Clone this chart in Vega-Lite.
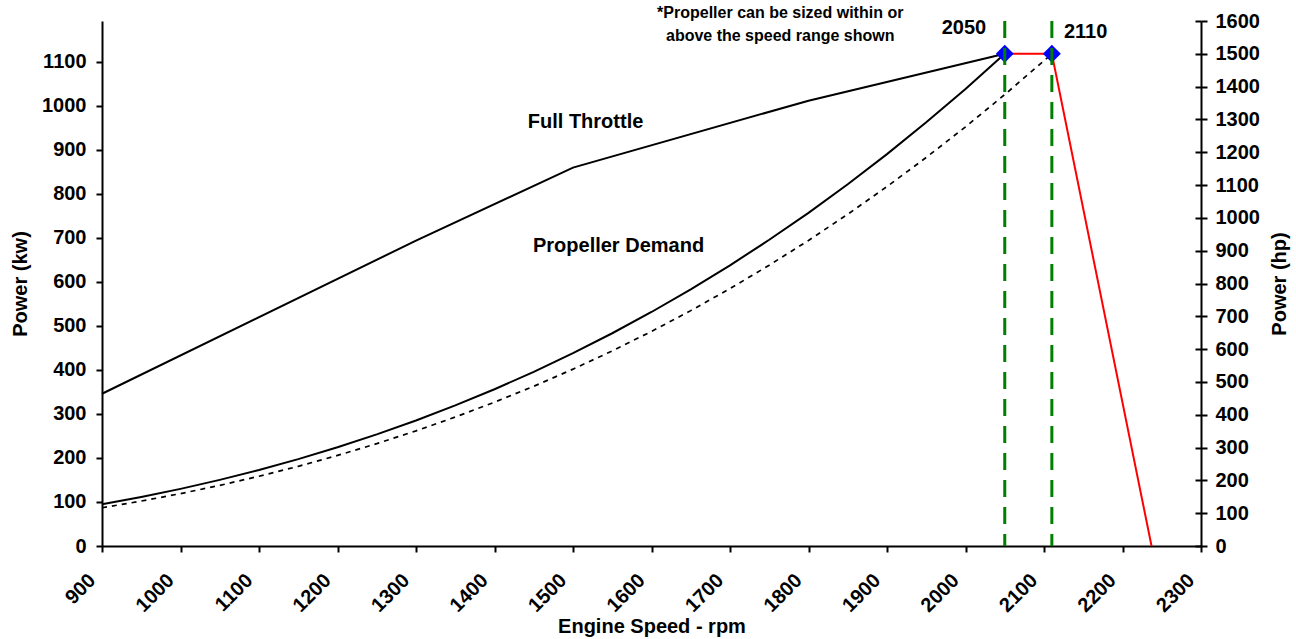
{
  "$schema": "https://vega.github.io/schema/vega-lite/v6.json",
  "width": 1099,
  "height": 525,
  "autosize": {"type": "none"},
  "padding": {"left": 102, "top": 21, "right": 95, "bottom": 93},
  "background": "white",
  "datasets": {
    "throttle": [
      {"rpm": 900, "kw": 346}, {"rpm": 1300, "kw": 694}, {"rpm": 1500, "kw": 860},
      {"rpm": 1800, "kw": 1012}, {"rpm": 2050, "kw": 1118.6}
    ],
    "propSolid": [
      {"rpm": 900, "kw": 94.7}, {"rpm": 950, "kw": 111.3}, {"rpm": 1000, "kw": 129.8},
      {"rpm": 1050, "kw": 150.3}, {"rpm": 1100, "kw": 172.8}, {"rpm": 1150, "kw": 197.5},
      {"rpm": 1200, "kw": 224.4}, {"rpm": 1250, "kw": 253.6}, {"rpm": 1300, "kw": 285.3},
      {"rpm": 1350, "kw": 319.5}, {"rpm": 1400, "kw": 356.3}, {"rpm": 1450, "kw": 395.8},
      {"rpm": 1500, "kw": 438.2}, {"rpm": 1550, "kw": 483.5}, {"rpm": 1600, "kw": 531.8},
      {"rpm": 1650, "kw": 583.3}, {"rpm": 1700, "kw": 637.9}, {"rpm": 1750, "kw": 695.9},
      {"rpm": 1800, "kw": 757.2}, {"rpm": 1850, "kw": 822.1}, {"rpm": 1900, "kw": 890.6},
      {"rpm": 1950, "kw": 962.8}, {"rpm": 2000, "kw": 1038.7}, {"rpm": 2050, "kw": 1118.6}
    ],
    "propDotted": [
      {"rpm": 900, "kw": 86.9}, {"rpm": 950, "kw": 102.1}, {"rpm": 1000, "kw": 119.0},
      {"rpm": 1050, "kw": 137.8}, {"rpm": 1100, "kw": 158.5}, {"rpm": 1150, "kw": 181.1},
      {"rpm": 1200, "kw": 205.8}, {"rpm": 1250, "kw": 232.6}, {"rpm": 1300, "kw": 261.7},
      {"rpm": 1350, "kw": 293.0}, {"rpm": 1400, "kw": 326.8}, {"rpm": 1450, "kw": 363.0},
      {"rpm": 1500, "kw": 401.9}, {"rpm": 1550, "kw": 443.4}, {"rpm": 1600, "kw": 487.7},
      {"rpm": 1650, "kw": 534.9}, {"rpm": 1700, "kw": 585.0}, {"rpm": 1750, "kw": 638.2},
      {"rpm": 1800, "kw": 694.4}, {"rpm": 1850, "kw": 754.0}, {"rpm": 1900, "kw": 816.8},
      {"rpm": 1950, "kw": 883.0}, {"rpm": 2000, "kw": 952.6}, {"rpm": 2050, "kw": 1025.9},
      {"rpm": 2100, "kw": 1102.8}, {"rpm": 2110, "kw": 1118.6}
    ],
    "labels": [
      {"label": "Full Throttle", "rpm": 1516, "kw": 950},
      {"label": "Propeller Demand", "rpm": 1558, "kw": 668},
      {"label": "2050", "rpm": 1998, "kw": 1164},
      {"label": "2110", "rpm": 2153, "kw": 1155}
    ],
    "note": [
      {"label": "*Propeller can be sized within or", "rpm": 1764, "kw": 1199},
      {"label": "above the speed range shown", "rpm": 1764, "kw": 1147}
    ],
    "limit": [
      {"rpm": 2050, "hp": 1500}, {"rpm": 2110, "hp": 1500}, {"rpm": 2237, "hp": 0}
    ],
    "markers": [
      {"rpm": 2050, "hp": 1500}, {"rpm": 2110, "hp": 1500}
    ],
    "guides": [
      {"rpm": 2050}, {"rpm": 2110}
    ]
  },
  "config": {
    "view": {"stroke": null},
    "font": "Liberation Sans",
    "axis": {
      "domainColor": "black", "domainWidth": 2,
      "tickColor": "black", "tickWidth": 2, "tickSize": 6,
      "labelFont": "Liberation Sans", "labelFontWeight": "bold", "labelFontSize": 20, "labelColor": "black",
      "titleFont": "Liberation Sans", "titleFontWeight": "bold", "titleFontSize": 20, "titleColor": "black",
      "grid": false, "labelOverlap": false, "labelFlush": false, "format": "d"
    }
  },
  "layer": [
    {
      "encoding": {
        "x": {
          "field": "rpm", "type": "quantitative",
          "scale": {"domain": [900, 2300], "nice": false, "zero": false},
          "axis": {
            "title": "Engine Speed - rpm", "format": "d",
            "values": [900, 1000, 1100, 1200, 1300, 1400, 1500, 1600, 1700, 1800, 1900, 2000, 2100, 2200, 2300],
            "labelAngle": -45, "labelAlign": "right", "labelBaseline": "middle",
            "labelPadding": 25, "labelOffset": -10,
            "titleY": 86, "titleBaseline": "alphabetic"
          }
        },
        "y": {
          "field": "kw", "type": "quantitative",
          "scale": {"domain": [0, 1193.1], "nice": false, "zero": true},
          "axis": {
            "title": "Power (kw)", "orient": "left", "format": "d",
            "values": [0, 100, 200, 300, 400, 500, 600, 700, 800, 900, 1000, 1100],
            "labelPadding": 10,
            "titleAngle": 270, "titleX": -76, "titleY": 262.5, "titleBaseline": "alphabetic", "titleAlign": "center"
          }
        }
      },
      "layer": [
        {"data": {"name": "throttle"}, "mark": {"type": "line", "color": "black", "strokeWidth": 2}},
        {"data": {"name": "propSolid"}, "mark": {"type": "line", "color": "black", "strokeWidth": 2}},
        {"data": {"name": "propDotted"}, "mark": {"type": "line", "color": "black", "strokeWidth": 1.7, "strokeDash": [5, 5]}},
        {"data": {"name": "labels"}, "mark": {"type": "text", "font": "Liberation Sans", "fontWeight": "bold", "fontSize": 20, "align": "center", "baseline": "alphabetic", "color": "black"}, "encoding": {"text": {"field": "label"}}},
        {"data": {"name": "note"}, "mark": {"type": "text", "font": "Liberation Sans", "fontWeight": "bold", "fontSize": 16, "align": "center", "baseline": "alphabetic", "color": "black"}, "encoding": {"text": {"field": "label"}}}
      ]
    },
    {
      "layer": [
        {
          "data": {"name": "limit"},
          "mark": {"type": "line", "color": "#FF0000", "strokeWidth": 2},
          "encoding": {
            "x": {"field": "rpm", "type": "quantitative", "scale": {"domain": [900, 2300], "nice": false, "zero": false}, "axis": {"title": "Engine Speed - rpm"}},
            "y": {
              "field": "hp", "type": "quantitative",
              "scale": {"domain": [0, 1600], "nice": false, "zero": true},
              "axis": {
                "title": "Power (hp)", "orient": "right", "format": "d",
                "values": [0, 100, 200, 300, 400, 500, 600, 700, 800, 900, 1000, 1100, 1200, 1300, 1400, 1500, 1600],
                "labelPadding": 8,
                "titleAngle": 270, "titleX": 84, "titleY": 262.5, "titleBaseline": "alphabetic", "titleAlign": "center"
              }
            }
          }
        },
        {
          "data": {"name": "markers"},
          "mark": {"type": "point", "shape": "diamond", "filled": true, "color": "#0000FF", "size": 320, "opacity": 1},
          "encoding": {
            "x": {"field": "rpm", "type": "quantitative", "scale": {"domain": [900, 2300], "nice": false, "zero": false}, "axis": {"title": "Engine Speed - rpm"}},
            "y": {
              "field": "hp", "type": "quantitative",
              "scale": {"domain": [0, 1600], "nice": false, "zero": true},
              "axis": {
                "orient": "right", "title": null, "labels": false, "domain": false,
                "values": [0, 100, 200, 300, 400, 500, 600, 700, 800, 900, 1000, 1100, 1200, 1300, 1400, 1500, 1600],
                "tickSize": -6
              }
            }
          }
        }
      ],
      "resolve": {"axis": {"y": "independent"}}
    },
    {
      "data": {"name": "guides"},
      "mark": {"type": "rule", "color": "#008000", "strokeWidth": 3, "strokeDash": [17, 10]},
      "encoding": {
        "x": {"field": "rpm", "type": "quantitative", "scale": {"domain": [900, 2300], "nice": false, "zero": false}, "axis": {"title": "Engine Speed - rpm"}}
      }
    }
  ],
  "resolve": {"scale": {"y": "independent"}}
}
